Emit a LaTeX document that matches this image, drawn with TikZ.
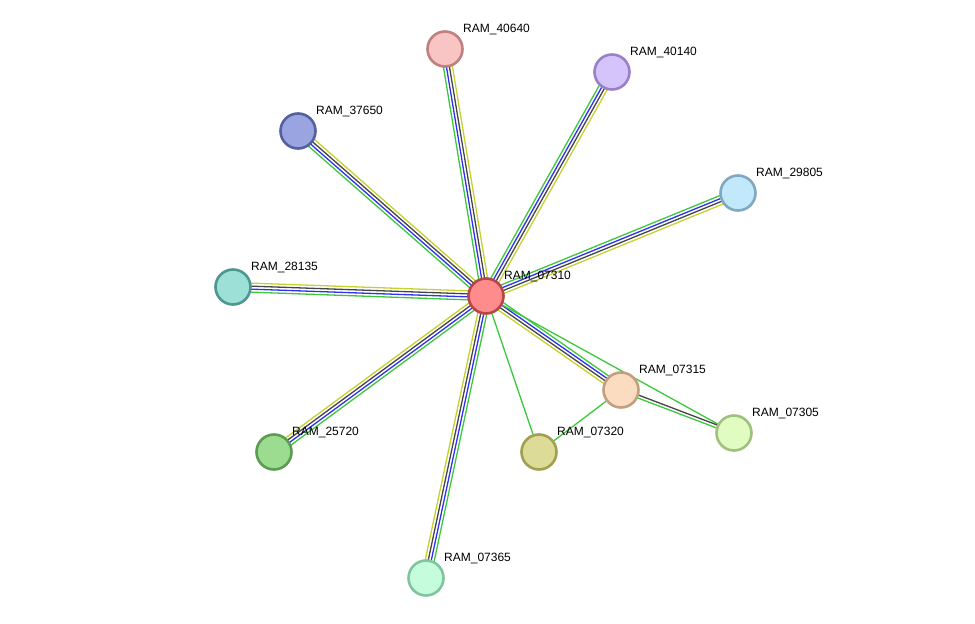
\documentclass[tikz,border=0pt]{standalone}
\usepackage{fontspec}
\setmainfont{Liberation Sans}
\usetikzlibrary{calc,backgrounds}
\definecolor{nbgreen}{HTML}{3CC83C} \definecolor{coblue}{HTML}{3030F0} \definecolor{cxgray}{HTML}{454545} \definecolor{tmyel}{HTML}{C4D12E}
\tikzset{prot/.style={circle,draw,line width=2.6pt,minimum size=35pt,inner sep=0pt}, lbl/.style={anchor=base west,inner sep=0pt,font=\fontsize{12}{14}\selectfont}, ev/.style={line width=1.3pt}}
\newcommand{\fouredge}[2]{\foreach \o/\c in {4.5/nbgreen,1.5/coblue,-1.5/cxgray,-4.5/tmyel} \draw[ev,\c] ($(#1)!\o pt!90:(#2)$) -- ($(#2)!\o pt!-90:(#1)$);}

\begin{document}
\begin{tikzpicture}[x=1pt,y=-1pt]
\useasboundingbox (0,0) rectangle (975,624);
% proteins
\node[prot,draw=red!45!gray,fill=red!45] (c) at (486,296) {}; \node[lbl] (lc) at ($(c)+(18,-17)$) {RAM\_07310};
\node[prot,draw={rgb,255:red,192;green,128;blue,128},fill={rgb,255:red,248;green,196;blue,196}] (n40640) at (445,49) {}; \node[lbl] (l40640) at ($(n40640)+(18,-17)$) {RAM\_40640};
\node[prot,draw={rgb,255:red,154;green,128;blue,200},fill={rgb,255:red,213;green,196;blue,252}] (n40140) at (612,72) {}; \node[lbl] (l40140) at ($(n40140)+(18,-17)$) {RAM\_40140};
\node[prot,draw={rgb,255:red,85;green,96;blue,160},fill={rgb,255:red,154;green,164;blue,224}] (n37650) at (298,131) {}; \node[lbl] (l37650) at ($(n37650)+(18,-17)$) {RAM\_37650};
\node[prot,draw={rgb,255:red,128;green,168;blue,192},fill={rgb,255:red,194;green,232;blue,252}] (n29805) at (738,193) {}; \node[lbl] (l29805) at ($(n29805)+(18,-17)$) {RAM\_29805};
\node[prot,draw={rgb,255:red,76;green,152;blue,144},fill={rgb,255:red,156;green,224;blue,216}] (n28135) at (233,287) {}; \node[lbl] (l28135) at ($(n28135)+(18,-17)$) {RAM\_28135};
\node[prot,draw={rgb,255:red,92;green,156;blue,80},fill={rgb,255:red,156;green,220;blue,144}] (n25720) at (274,452) {}; \node[lbl] (l25720) at ($(n25720)+(18,-17)$) {RAM\_25720};
\node[prot,draw={rgb,255:red,128;green,196;blue,160},fill={rgb,255:red,196;green,252;blue,220}] (n07365) at (426,578) {}; \node[lbl] (l07365) at ($(n07365)+(18,-17)$) {RAM\_07365};
\node[prot,draw={rgb,255:red,160;green,160;blue,80},fill={rgb,255:red,220;green,220;blue,152}] (n07320) at (539,452) {}; \node[lbl] (l07320) at ($(n07320)+(18,-17)$) {RAM\_07320};
\node[prot,draw={rgb,255:red,192;green,160;blue,128},fill={rgb,255:red,252;green,220;blue,192}] (n07315) at (621,390) {}; \node[lbl] (l07315) at ($(n07315)+(18,-17)$) {RAM\_07315};
\node[prot,draw={rgb,255:red,160;green,192;blue,128},fill={rgb,255:red,224;green,252;blue,192}] (n07305) at (734,433) {}; \node[lbl] (l07305) at ($(n07305)+(18,-17)$) {RAM\_07305};
% evidence lines
\begin{pgfonlayer}{background}
\foreach \t in {n40640,n40140,n37650,n29805,n28135,n25720,n07365,n07315} {\fouredge{c}{\t}}
\draw[ev,nbgreen] (c) -- (n07305); \draw[ev,nbgreen] (c) -- (n07320); \draw[ev,nbgreen] (n07320) -- (n07315);
\draw[ev,cxgray] ($(n07315)!1.5pt!90:(n07305)$) -- ($(n07305)!1.5pt!-90:(n07315)$);
\draw[ev,nbgreen] ($(n07315)!-1.5pt!90:(n07305)$) -- ($(n07305)!-1.5pt!-90:(n07315)$);
\end{pgfonlayer}
\end{tikzpicture}
\end{document}
